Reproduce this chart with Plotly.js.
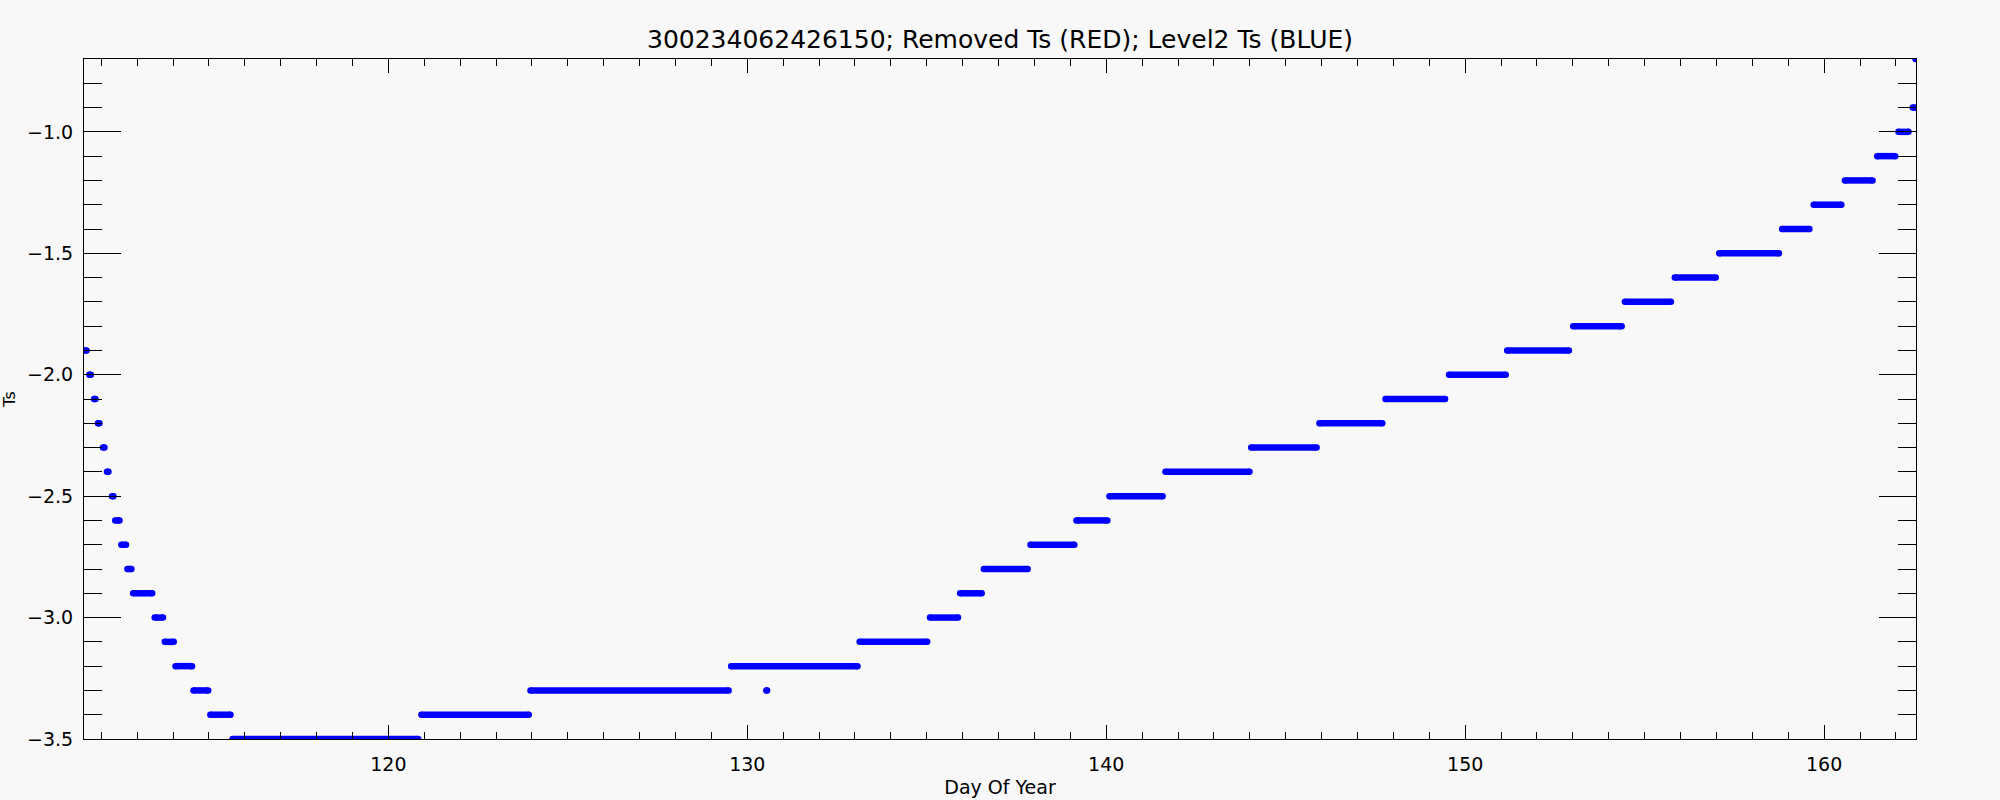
<!DOCTYPE html>
<html>
<head>
<meta charset="utf-8">
<script src="https://cdn.plot.ly/plotly-3.0.1.min.js"></script>
<style>
  html, body { margin: 0; padding: 0; background: #f8f8f8; }
  #chart { width: 2000px; height: 800px; }
</style>
</head>
<body>
<div id="chart"></div>
<script>
// Level2 Ts plateaus: value, first day, last day
const tsLevel = [-1.9, -2.0, -2.1, -2.2, -2.3, -2.4, -2.5, -2.6, -2.7, -2.8,
                 -2.9, -3.0, -3.1, -3.2, -3.3, -3.4, -3.5, -3.4, -3.3, -3.3,
                 -3.2, -3.1, -3.0, -2.9, -2.8, -2.7, -2.6, -2.5, -2.4, -2.3,
                 -2.2, -2.1, -2.0, -1.9, -1.8, -1.7, -1.6, -1.5, -1.4, -1.3,
                 -1.2, -1.1, -1.0, -0.9, -0.7];
const dayStart = [111.55, 111.67, 111.80, 111.91, 112.05, 112.16, 112.30, 112.39, 112.56, 112.73,
                  112.89, 113.49, 113.77, 114.07, 114.57, 115.04, 115.66, 120.92, 123.96, 130.53,
                  129.55, 133.13, 135.09, 135.93, 136.59, 137.89, 139.17, 140.09, 141.65, 144.04,
                  145.94, 147.78, 149.55, 151.17, 153.01, 154.45, 155.84, 157.08, 158.83, 159.71,
                  160.58, 161.48, 162.07, 162.47, 162.55];
const dayEnd   = [111.59, 111.71, 111.84, 111.95, 112.09, 112.20, 112.34, 112.51, 112.69, 112.84,
                   113.42, 113.72, 114.02, 114.53, 114.98, 115.60, 120.83, 123.91, 129.48, 130.55,
                   133.07, 135.01, 135.87, 136.53, 137.81, 139.11, 140.03, 141.57, 143.99, 145.86,
                   147.69, 149.44, 151.13, 152.89, 154.36, 155.73, 156.98, 158.74, 159.59, 160.48,
                   161.35, 161.98, 162.35, 162.60, 162.56];

const titleText = "300234062426150; Removed Ts (RED); Level2 Ts (BLUE)";
const xTitle = "Day Of Year";
const yTitle = "Ts";

const xs = [], ys = [];
for (let i = 0; i < tsLevel.length; i++) {
  xs.push(dayStart[i], dayEnd[i], null);
  ys.push(tsLevel[i], tsLevel[i], null);
}

const FONT = "DejaVu Sans";

const trace = {
  type: "scatter",
  mode: "lines+markers",
  x: xs, y: ys,
  connectgaps: false,
  line: { color: "#0000ff", width: 6.5 },
  marker: { color: "#0000ff", size: 6.5, line: { width: 0 } },
  hoverinfo: "skip"
};

const layout = {
  width: 2000, height: 800,
  margin: { l: 84, r: 84, t: 59, b: 61 },
  paper_bgcolor: "#f8f8f8",
  plot_bgcolor: "#f8f8f8",
  showlegend: false,
  font: { family: FONT, color: "#000000", size: 19 },
  title: {
    text: titleText,
    font: { family: FONT, size: 25, color: "#000000" },
    x: 0.5, xanchor: "center",
    y: 1 - 39 / 800, yanchor: "middle", yref: "container"
  },
  xaxis: {
    range: [111.52, 162.56],
    tick0: 0, dtick: 10,
    ticks: "inside", ticklen: 14, tickwidth: 1, tickcolor: "#000",
    minor: { dtick: 1, ticks: "inside", ticklen: 7, tickwidth: 1, tickcolor: "#000", showgrid: false },
    showline: true, linecolor: "#000", linewidth: 1, mirror: "ticks",
    showgrid: false, zeroline: false,
    tickfont: { family: FONT, size: 19, color: "#000" },
    ticklabelstandoff: 8,
    title: { text: xTitle, font: { family: FONT, size: 19, color: "#000" }, standoff: 6 }
  },
  yaxis: {
    range: [-3.5, -0.7],
    tick0: 0, dtick: 0.5, tickformat: ".1f",
    ticks: "inside", ticklen: 37, tickwidth: 1, tickcolor: "#000",
    minor: { dtick: 0.1, ticks: "inside", ticklen: 18, tickwidth: 1, tickcolor: "#000", showgrid: false },
    showline: true, linecolor: "#000", linewidth: 1, mirror: "ticks",
    showgrid: false, zeroline: false,
    tickfont: { family: FONT, size: 19, color: "#000" },
    ticklabelstandoff: 6,
    title: { text: yTitle, font: { family: FONT, size: 16, color: "#000" }, standoff: 12 }
  }
};

Plotly.newPlot("chart", [trace], layout, { displayModeBar: false, staticPlot: true });
</script>
</body>
</html>
